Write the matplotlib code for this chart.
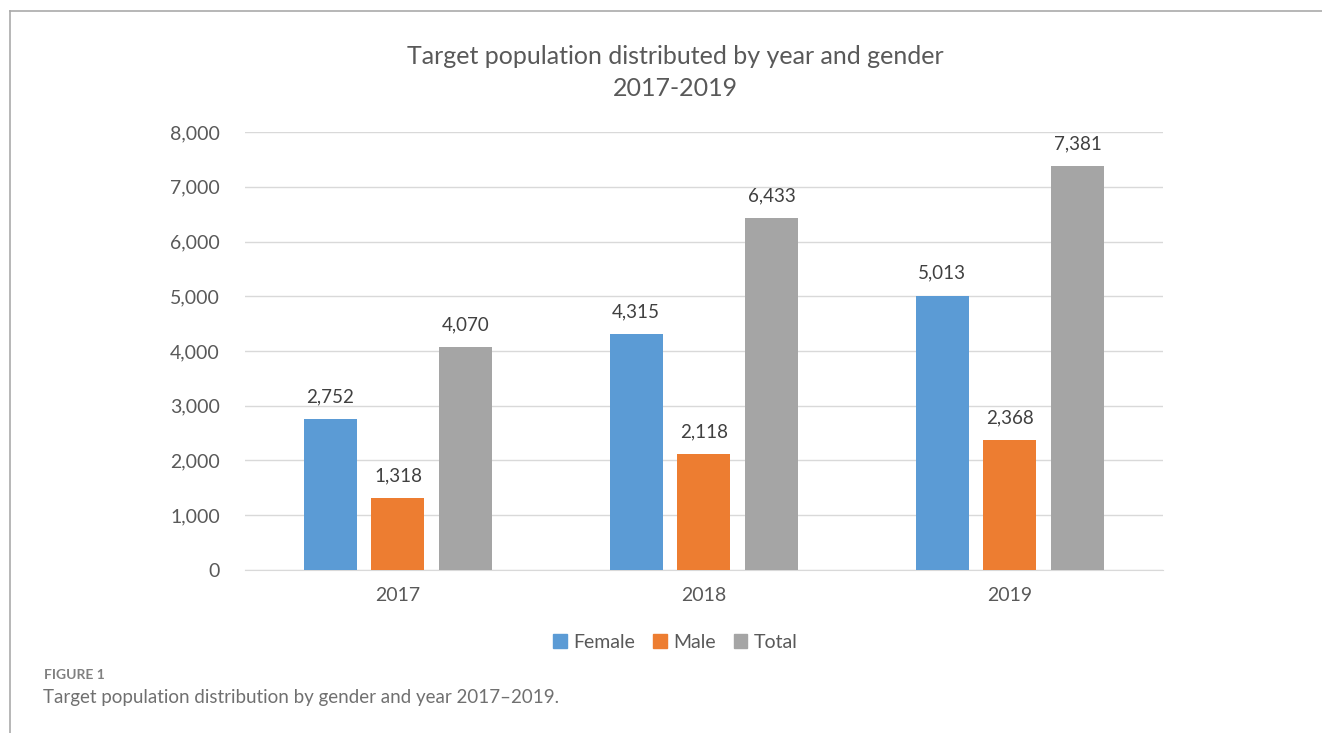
import matplotlib.pyplot as plt
import numpy as np
from matplotlib.lines import Line2D

# ----------- Data -----------
years = ["2017", "2018", "2019"]
female = [2752, 4315, 5013]
male = [1318, 2118, 2368]
total = [4070, 6433, 7381]
series_names = ["Female", "Male", "Total"]
colors = ["#5B9BD5", "#ED7D31", "#A5A5A5"]

plt.rcParams["font.family"] = ["Lato", "DejaVu Sans"]

fig = plt.figure(figsize=(13.22, 7.33), dpi=100)
ax = fig.add_axes([0.1853, 0.2224, 0.6944, 0.5975])

x = np.arange(len(years))
width = 0.173
step = 0.222
for i, (vals, name, c) in enumerate(zip([female, male, total], series_names, colors)):
    pos = x + (i - 1) * step
    ax.bar(pos, vals, width, color=c, label=name, zorder=3)
    for xb, v in zip(pos, vals):
        ax.text(xb, v + 250, f"{v:,}", ha="center", va="bottom",
                fontsize=13.5, color="#404040")

ax.set_xlim(-0.5, 2.5)
ax.set_ylim(0, 8000)
ax.set_yticks(range(0, 8001, 1000))
ax.set_yticklabels([f"{t:,}" for t in range(0, 8001, 1000)])
ax.set_xticks(x)
ax.set_xticklabels(years)
ax.tick_params(axis="both", length=0, labelsize=14, colors="#595959")
ax.tick_params(axis="y", pad=18)
ax.tick_params(axis="x", pad=12)
ax.grid(axis="y", color="#D9D9D9", linewidth=1, zorder=0)
for s in ["top", "right", "left"]:
    ax.spines[s].set_visible(False)
ax.spines["bottom"].set_color("#D9D9D9")

fig.text(0.5106, 0.923, "Target population distributed by year and gender",
         ha="center", va="center", fontsize=18, color="#595959")
fig.text(0.5106, 0.879, "2017-2019", ha="center", va="center",
         fontsize=18, color="#595959")

handles = [plt.Rectangle((0, 0), 1, 1, color=c) for c in colors]
fig.legend(handles, series_names, loc="center", bbox_to_anchor=(0.511, 0.124),
           ncol=3, frameon=False, fontsize=14, handlelength=0.7, handleheight=0.7,
           columnspacing=0.9, handletextpad=0.35, labelcolor="#595959")

fig.text(44 / 1322, 1 - 675 / 733, "FIGURE 1", ha="left", va="center",
         fontsize=10, fontweight="bold", color="#808080")
fig.text(43 / 1322, 1 - 698 / 733,
         "Target population distribution by gender and year 2017\u20132019.",
         ha="left", va="center", fontsize=13.5, color="#707070")

# frame lines
fig.add_artist(Line2D([10 / 1322, 1], [1 - 11 / 733, 1 - 11 / 733],
                      color="#AAAAAA", linewidth=1.2))
fig.add_artist(Line2D([10 / 1322, 10 / 1322], [0, 1 - 11 / 733],
                      color="#AAAAAA", linewidth=1.2))

fig.savefig("out.png", dpi=100)
